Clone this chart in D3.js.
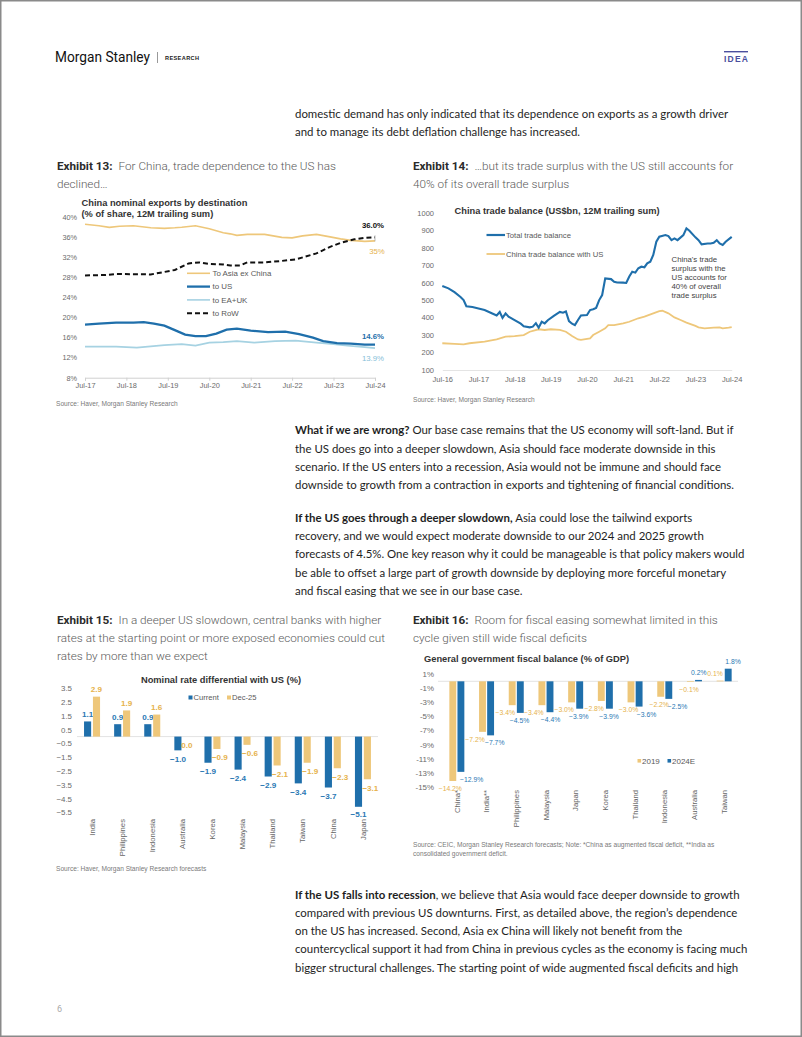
<!DOCTYPE html>
<html>
<head>
<meta charset="utf-8">
<script src="https://cdn.jsdelivr.net/npm/d3@7"></script>
<style>
  body { margin: 0; background: #fff; }
  svg { display: block; }
</style>
</head>
<body>
<svg id="page" width="802" height="1037"></svg>
<script>
// ---------- data read from the page ----------
// Exhibit 13: China nominal exports by destination (% share, 12M trailing sum)
const asiaExChina = [["2017-07",38.6],["2017-11",38.3],["2018-02",38.0],["2018-05",38.2],["2018-09",38.3],["2019-02",37.9],["2019-06",37.8],["2019-09",37.9],["2019-11",38.0],["2020-03",38.3],["2020-07",37.7],["2020-11",36.9],["2021-01",36.7],["2021-03",36.4],["2021-06",36.6],["2021-11",36.6],["2022-04",36.0],["2022-07",35.9],["2022-10",36.3],["2023-02",36.6],["2023-06",36.1],["2023-09",35.7],["2023-12",35.4],["2024-04",35.2],["2024-07",35.3]];
const toUS = [["2017-07",18.6],["2017-11",18.8],["2018-04",19.0],["2018-09",19.0],["2018-12",19.1],["2019-03",18.8],["2019-06",18.4],["2019-09",17.5],["2019-12",16.6],["2020-03",16.3],["2020-06",16.3],["2020-09",16.8],["2020-12",17.6],["2021-03",17.8],["2021-07",17.4],["2021-12",17.1],["2022-05",17.2],["2022-09",16.7],["2023-01",16.0],["2023-04",15.3],["2023-08",14.9],["2023-12",14.8],["2024-04",14.6],["2024-07",14.6]];
const toEAUK = [["2017-07",14.2],["2018-04",14.2],["2018-10",14.0],["2019-06",14.5],["2019-11",14.7],["2020-03",14.4],["2020-07",15.0],["2020-11",15.1],["2021-03",15.3],["2021-08",15.0],["2022-02",15.3],["2022-08",15.4],["2023-02",15.0],["2023-07",14.7],["2023-11",14.4],["2024-04",14.1],["2024-07",13.9]];
const toRoW = [["2017-07",28.4],["2018-01",28.5],["2018-04",28.7],["2019-02",28.6],["2019-06",29.1],["2019-09",29.5],["2020-01",30.8],["2020-04",31.0],["2020-07",30.7],["2020-11",30.6],["2021-01",30.4],["2021-04",30.4],["2021-06",31.0],["2021-11",31.0],["2022-04",31.3],["2022-08",31.6],["2023-02",32.8],["2023-06",34.1],["2023-09",34.9],["2024-01",35.6],["2024-04",35.9],["2024-07",36.0]];
const exportTicks = ["Jul-17","Jul-18","Jul-19","Jul-20","Jul-21","Jul-22","Jul-23","Jul-24"];
const exportYTicks = [8,12,16,20,24,28,32,36,40];

// Exhibit 14: China trade balance (US$bn, 12M trailing sum)
const totalBalance = [["2016-07",580],["2016-09",567],["2016-11",545],["2017-01",518],["2017-02",500],["2017-03",465],["2017-05",460],["2017-09",443],["2017-11",428],["2018-01",412],["2018-02",432],["2018-03",398],["2018-04",424],["2018-05",405],["2018-07",385],["2018-09",365],["2018-10",350],["2018-12",344],["2019-01",348],["2019-02",368],["2019-03",342],["2019-04",376],["2019-05",367],["2019-06",385],["2019-08",410],["2019-10",432],["2019-11",428],["2019-12",435],["2020-01",380],["2020-02",365],["2020-03",357],["2020-04",386],["2020-05",412],["2020-07",415],["2020-08",443],["2020-09",448],["2020-10",455],["2020-11",500],["2020-12",529],["2021-01",624],["2021-03",620],["2021-04",605],["2021-05",601],["2021-07",600],["2021-08",598],["2021-09",635],["2021-10",662],["2021-11",657],["2021-12",682],["2022-01",691],["2022-02",688],["2022-03",710],["2022-04",720],["2022-05",758],["2022-06",834],["2022-07",863],["2022-09",872],["2022-10",866],["2022-11",843],["2022-12",853],["2023-01",843],["2023-03",872],["2023-04",910],["2023-05",897],["2023-07",859],["2023-08",843],["2023-09",819],["2023-11",824],["2023-12",824],["2024-01",828],["2024-02",843],["2024-03",824],["2024-04",815],["2024-05",834],["2024-07",862]];
const usBalance = [["2016-07",253],["2016-11",249],["2017-02",247],["2017-04",253],["2017-09",262],["2018-01",275],["2018-04",291],["2018-07",294],["2018-10",300],["2018-12",319],["2019-03",333],["2019-05",329],["2019-07",333],["2019-10",329],["2019-12",319],["2020-02",294],["2020-04",275],["2020-05",272],["2020-08",281],["2020-09",300],["2020-11",319],["2021-01",338],["2021-02",357],["2021-04",357],["2021-07",367],["2021-09",376],["2021-12",396],["2022-02",405],["2022-05",424],["2022-07",437],["2022-08",439],["2022-10",424],["2022-12",401],["2023-02",386],["2023-04",371],["2023-07",352],["2023-08",344],["2023-10",338],["2024-01",342],["2024-03",344],["2024-04",338],["2024-06",342],["2024-07",346]];
const balanceTicks = ["Jul-16","Jul-17","Jul-18","Jul-19","Jul-20","Jul-21","Jul-22","Jul-23","Jul-24"];
const balanceYTicks = [100,200,300,400,500,600,700,800,900,1000];

// Exhibit 15: nominal rate differential with US (%)
const rateCountries = ["India","Philippines","Indonesia","Australia","Korea","Malaysia","Thailand","Taiwan","China","Japan"];
const rateCurrent = [1.1,0.9,0.9,-1.0,-1.9,-2.4,-2.9,-3.4,-3.7,-5.1];
const rateDec25 = [2.9,1.9,1.6,0.0,-0.9,-0.6,-2.1,-1.9,-2.3,-3.1];
const rateYTicks = [3.5,2.5,1.5,0.5,-0.5,-1.5,-2.5,-3.5,-4.5,-5.5];

// Exhibit 16: general government fiscal balance (% of GDP)
const fiscalCountries = ["China*","India**","Philippines","Malaysia","Japan","Korea","Thailand","Indonesia","Australia","Taiwan"];
const fiscal2019 = [-14.2,-7.2,-3.4,-3.4,-3.0,-2.8,-3.0,-2.2,-0.1,0.1];
const fiscal2024E = [-12.9,-7.7,-4.5,-4.4,-3.9,-3.9,-3.6,-2.5,0.2,1.8];
const fiscalYTicks = [1,-1,-3,-5,-7,-9,-11,-13,-15];

// ---------- setup ----------
const parse = d3.timeParse("%Y-%m");
const toPoints = arr => arr.map(([d, v]) => ({date: parse(d), value: v}));
const svg = d3.select("#page");
const CHART_FONT = "'Liberation Sans', Arial, sans-serif";
const BODY_FONT = "Lato, 'Noto Sans', sans-serif";
const TITLE_FONT = "Roboto, 'Noto Sans', sans-serif";
const BLUE = "#1f6fab", YELLOW = "#eec77a", LIGHTBLUE = "#a6d2e2";
const CHART_TITLE = 9.3;

// page frame
svg.append("rect").attr("x", 0.75).attr("y", 0.75).attr("width", 800.5).attr("height", 1035.5)
    .attr("fill", "none").attr("stroke", "#8a8a8a").attr("stroke-width", 1.5);

// header
svg.append("text").attr("x", 55).attr("y", 62).attr("font-family", TITLE_FONT).attr("font-size", 15)
    .attr("fill", "#111").attr("textLength", 95).attr("lengthAdjust", "spacingAndGlyphs").text("Morgan Stanley");
svg.append("line").attr("x1", 157.5).attr("x2", 157.5).attr("y1", 52).attr("y2", 63).attr("stroke", "#999");
svg.append("text").attr("x", 165).attr("y", 60).attr("font-family", CHART_FONT).attr("font-size", 5.6)
    .attr("font-weight", "bold").attr("fill", "#222").attr("textLength", 34).text("RESEARCH");
svg.append("rect").attr("x", 724).attr("y", 51).attr("width", 24).attr("height", 1.4).attr("fill", "#4b4f9e");
svg.append("text").attr("x", 724).attr("y", 61.5).attr("font-family", CHART_FONT).attr("font-size", 8.5)
    .attr("font-weight", "bold").attr("fill", "#4b4f9e").attr("textLength", 24).text("IDEA");
svg.append("text").attr("x", 57).attr("y", 1012).attr("font-family", TITLE_FONT).attr("font-size", 9)
    .attr("fill", "#aaa").text("6");

// ---------- body text ----------
function measure(family, weight, size, text) {
  const t = svg.append("text").attr("font-family", family).attr("font-weight", weight)
      .attr("font-size", size).text(text);
  const w = t.node().getComputedTextLength();
  t.remove();
  return w;
}
const bodySize = 12 * 450 / measure(BODY_FONT, "normal", 12,
    "forecasts of 4.5%. One key reason why it could be manageable is that policy makers would");

const paragraphs = [
  {y: 118, lines: [["", "domestic demand has only indicated that its dependence on exports as a growth driver"],
                   ["", "and to manage its debt deflation challenge has increased."]]},
  {y: 434.2, lines: [["What if we are wrong?", " Our base case remains that the US economy will soft-land. But if"],
                     ["", "the US does go into a deeper slowdown, Asia should face moderate downside in this"],
                     ["", "scenario. If the US enters into a recession, Asia would not be immune and should face"],
                     ["", "downside to growth from a contraction in exports and tightening of financial conditions."]]},
  {y: 521.8, lines: [["If the US goes through a deeper slowdown,", " Asia could lose the tailwind exports"],
                     ["", "recovery, and we would expect moderate downside to our 2024 and 2025 growth"],
                     ["", "forecasts of 4.5%. One key reason why it could be manageable is that policy makers would"],
                     ["", "be able to offset a large part of growth downside by deploying more forceful monetary"],
                     ["", "and fiscal easing that we see in our base case."]]},
  {y: 898.5, lines: [["If the US falls into recession", ", we believe that Asia would face deeper downside to growth"],
                     ["", "compared with previous US downturns. First, as detailed above, the region\u2019s dependence"],
                     ["", "on the US has increased. Second, Asia ex China will likely not benefit from the"],
                     ["", "countercyclical support it had from China in previous cycles as the economy is facing much"],
                     ["", "bigger structural challenges. The starting point of wide augmented fiscal deficits and high"]]}
];
paragraphs.forEach(p => {
  p.lines.forEach(([bold, rest], i) => {
    const t = svg.append("text").attr("x", 295).attr("y", p.y + i * 18.33)
        .attr("font-family", BODY_FONT).attr("font-size", bodySize).attr("fill", "#1e1e1e");
    if (bold) t.append("tspan").attr("font-weight", "bold").text(bold);
    t.append("tspan").text(rest);
  });
});

// ---------- exhibit titles ----------
const titleSize = 12 * 263 / measure(TITLE_FONT, 300, 12, "In a deeper US slowdown, central banks with higher");
const exhibitTitles = [
  {x: 57, y: 169.5, label: "Exhibit 13:", lines: ["For China, trade dependence to the US has", "declined\u2026"]},
  {x: 413, y: 169.5, label: "Exhibit 14:", lines: ["\u2026but its trade surplus with the US still accounts for", "40% of its overall trade surplus"]},
  {x: 57, y: 624, label: "Exhibit 15:", lines: ["In a deeper US slowdown, central banks with higher", "rates at the starting point or more exposed economies could cut", "rates by more than we expect"]},
  {x: 413, y: 624, label: "Exhibit 16:", lines: ["Room for fiscal easing somewhat limited in this", "cycle given still wide fiscal deficits"]}
];
exhibitTitles.forEach(e => {
  e.lines.forEach((line, i) => {
    const t = svg.append("text").attr("x", e.x).attr("y", e.y + i * 18)
        .attr("font-family", TITLE_FONT).attr("font-size", titleSize);
    if (i === 0) {
      t.append("tspan").attr("font-weight", "bold").attr("fill", "#2b2b2b").text(e.label);
      t.append("tspan").attr("dx", 6).attr("font-weight", 300).attr("fill", "#5a5a5a").text(line);
    } else {
      t.append("tspan").attr("font-weight", 300).attr("fill", "#5a5a5a").text(line);
    }
  });
});

function source(x, y, text) {
  svg.append("text").attr("x", x).attr("y", y).attr("font-family", CHART_FONT)
      .attr("font-size", 6.6).attr("fill", "#7a7a7a").text(text);
}
function chartText(x, y, size, text, opts = {}) {
  return svg.append("text").attr("x", x).attr("y", y).attr("font-family", CHART_FONT)
      .attr("font-size", size).attr("fill", opts.fill || "#555")
      .attr("font-weight", opts.weight || "normal")
      .attr("text-anchor", opts.anchor || "start").text(text);
}
function styleAxis(g, size) {
  g.selectAll("text").attr("font-family", CHART_FONT).attr("font-size", size).attr("fill", "#6b6b6b");
}

// ---------- Exhibit 13 ----------
{
  const x = d3.scaleTime().domain([parse("2017-07"), parse("2024-07")]).range([85, 375]);
  const y = d3.scaleLinear().domain([8, 40]).range([377.7, 217.3]);

  const yAxis = svg.append("g").attr("transform", "translate(79,0)")
      .call(d3.axisLeft(y).tickValues(exportYTicks).tickFormat(d => d + "%").tickSize(0).tickPadding(2));
  yAxis.select(".domain").remove();
  styleAxis(yAxis, 7.3);

  const tickDates = exportTicks.map((t, i) => d3.timeYear.offset(parse("2017-07"), i));
  const xAxis = svg.append("g").attr("transform", `translate(0,${y(8)})`)
      .call(d3.axisBottom(x).tickValues(tickDates).tickFormat((d, i) => exportTicks[i]).tickSize(3).tickPadding(2));
  xAxis.selectAll(".domain, line").attr("stroke", "#d0d0d0");
  styleAxis(xAxis, 7.4);

  const line = d3.line().x(d => x(d.date)).y(d => y(d.value));
  const series = [
    {data: toEAUK, color: LIGHTBLUE, width: 1.6},
    {data: asiaExChina, color: YELLOW, width: 1.6},
    {data: toUS, color: BLUE, width: 2.3},
    {data: toRoW, color: "#111", width: 2, dash: "5,3"}
  ];
  series.forEach(s => {
    svg.append("path").datum(toPoints(s.data)).attr("d", line).attr("fill", "none")
        .attr("stroke", s.color).attr("stroke-width", s.width)
        .attr("stroke-dasharray", s.dash || null);
  });

  chartText(81.5, 206, CHART_TITLE, "China nominal exports by destination", {weight: "bold", fill: "#333"});
  chartText(81.5, 217, CHART_TITLE, "(% of share, 12M trailing sum)", {weight: "bold", fill: "#333"});

  // legend
  const legend = [
    {label: "To Asia ex China", color: YELLOW, width: 1.6},
    {label: "to US", color: BLUE, width: 2.3},
    {label: "to EA+UK", color: LIGHTBLUE, width: 1.6},
    {label: "to RoW", color: "#111", width: 2, dash: "5,3"}
  ];
  legend.forEach((l, i) => {
    const ly = 273.3 + i * 13.3;
    svg.append("line").attr("x1", 187).attr("x2", 210).attr("y1", ly).attr("y2", ly)
        .attr("stroke", l.color).attr("stroke-width", l.width).attr("stroke-dasharray", l.dash || null);
    chartText(212.5, ly + 2.8, 7.9, l.label, {fill: "#595959"});
  });

  // end labels
  const end = parse("2024-07");
  svg.append("line").attr("x1", x(end)).attr("x2", x(end)).attr("y1", y(36.4)).attr("y2", y(35.2))
      .attr("stroke", "#aaa").attr("stroke-width", 0.8);
  chartText(x(end) - 2, y(36.0) - 9.5, 7.8, "36.0%", {weight: "bold", fill: "#111", anchor: "middle"});
  chartText(x(end) + 2, y(35.3) + 13, 7.8, "35%", {fill: "#e6b24c", anchor: "middle"});
  chartText(x(end) - 2, y(14.6) - 6, 7.8, "14.6%", {weight: "bold", fill: BLUE, anchor: "middle"});
  chartText(x(end) - 2, y(13.9) + 13, 7.8, "13.9%", {fill: "#86c0d8", anchor: "middle"});

  source(56, 406, "Source: Haver, Morgan Stanley Research");
}

// ---------- Exhibit 14 ----------
{
  const x = d3.scaleTime().domain([parse("2016-07"), parse("2024-07")]).range([442.3, 731.7]);
  const y = d3.scaleLinear().domain([100, 1000]).range([370, 212.7]);

  const yAxis = svg.append("g").attr("transform", "translate(436,0)")
      .call(d3.axisLeft(y).tickValues(balanceYTicks).tickFormat(d3.format("d")).tickSize(0).tickPadding(2));
  yAxis.select(".domain").remove();
  styleAxis(yAxis, 7.5);

  const tickDates = balanceTicks.map((t, i) => d3.timeYear.offset(parse("2016-07"), i));
  const xAxis = svg.append("g").attr("transform", `translate(0,${y(100)})`)
      .call(d3.axisBottom(x).tickValues(tickDates).tickFormat((d, i) => balanceTicks[i]).tickSize(0).tickPadding(7));
  xAxis.select(".domain").attr("stroke", "#e4e4e4");
  styleAxis(xAxis, 7.5);

  const line = d3.line().x(d => x(d.date)).y(d => y(d.value));
  svg.append("path").datum(toPoints(usBalance)).attr("d", line).attr("fill", "none")
      .attr("stroke", YELLOW).attr("stroke-width", 1.8);
  svg.append("path").datum(toPoints(totalBalance)).attr("d", line).attr("fill", "none")
      .attr("stroke", BLUE).attr("stroke-width", 2.1);

  chartText(454.5, 213.5, CHART_TITLE, "China trade balance (US$bn, 12M trailing sum)", {weight: "bold", fill: "#333"});

  const legend = [
    {label: "Total trade balance", color: BLUE, width: 2.2, y: 235},
    {label: "China trade balance with US", color: YELLOW, width: 1.8, y: 254}
  ];
  legend.forEach(l => {
    svg.append("line").attr("x1", 486.5).attr("x2", 505).attr("y1", l.y).attr("y2", l.y)
        .attr("stroke", l.color).attr("stroke-width", l.width);
    chartText(506, l.y + 2.7, 7.7, l.label, {fill: "#595959"});
  });

  ["China's trade", "surplus with the", "US accounts for", "40% of overall", "trade surplus"].forEach((t, i) => {
    chartText(671.5, 262 + i * 9, 7.8, t, {fill: "#444"});
  });

  source(413, 401.5, "Source: Haver, Morgan Stanley Research");
}

// ---------- Exhibit 15 ----------
{
  const x0 = d3.scaleBand().domain(rateCountries).range([77, 378]).paddingInner(0.468).paddingOuter(0.234);
  const x1 = d3.scaleBand().domain(["Current", "Dec-25"]).range([0, x0.bandwidth()]).paddingInner(0.2);
  const y = d3.scaleLinear().domain([-5.5, 3.5]).range([812.3, 688.4]);

  const yAxis = svg.append("g").attr("transform", "translate(74,0)")
      .call(d3.axisLeft(y).tickValues(rateYTicks).tickFormat(d3.format(".1f")).tickSize(0).tickPadding(2));
  yAxis.select(".domain").remove();
  styleAxis(yAxis, 7.9);

  svg.append("line").attr("x1", 77).attr("x2", 378).attr("y1", y(0)).attr("y2", y(0))
      .attr("stroke", "#dcdcdc").attr("stroke-width", 0.8);

  const rows = rateCountries.map((c, i) => ({country: c, Current: rateCurrent[i], "Dec-25": rateDec25[i]}));
  const seriesInfo = [
    {key: "Current", color: BLUE, labelColor: "#2a78b4", dx: 0},
    {key: "Dec-25", color: YELLOW, labelColor: "#e6b24c", dx: 3}
  ];
  seriesInfo.forEach(s => {
    const g = svg.append("g");
    g.selectAll("rect").data(rows).join("rect")
        .attr("x", d => x0(d.country) + x1(s.key))
        .attr("width", x1.bandwidth())
        .attr("y", d => y(Math.max(0, d[s.key])))
        .attr("height", d => Math.abs(y(d[s.key]) - y(0)))
        .attr("fill", s.color);
    g.selectAll("text").data(rows).join("text")
        .attr("x", d => x0(d.country) + x1(s.key) + x1.bandwidth() / 2 + (d[s.key] < 0 ? s.dx : 0))
        .attr("y", d => d[s.key] > 0 ? y(d[s.key]) - 4.3 : Math.min(y(d[s.key]) + 11.3, 816.5))
        .attr("text-anchor", "middle").attr("font-family", CHART_FONT).attr("font-size", 8.1)
        .attr("font-weight", "bold").attr("fill", s.labelColor)
        .text(d => d3.format(".1f")(d[s.key]));
  });

  svg.append("g").selectAll("text").data(rateCountries).join("text")
      .attr("transform", d => `translate(${x0(d) + x0.bandwidth() / 2},819) rotate(-90)`)
      .attr("dy", "0.35em").attr("text-anchor", "end")
      .attr("font-family", CHART_FONT).attr("font-size", 7.7).attr("fill", "#666").text(d => d);

  chartText(221, 682.5, CHART_TITLE, "Nominal rate differential with US (%)", {weight: "bold", fill: "#333", anchor: "middle"});

  svg.append("rect").attr("x", 188.5).attr("y", 695.5).attr("width", 4).attr("height", 4).attr("fill", BLUE);
  chartText(193.5, 700.2, 7.6, "Current", {fill: "#595959"});
  svg.append("rect").attr("x", 227).attr("y", 695.5).attr("width", 4).attr("height", 4).attr("fill", YELLOW);
  chartText(232, 700.2, 7.6, "Dec-25", {fill: "#595959"});

  source(56, 870.5, "Source: Haver, Morgan Stanley Research forecasts");
}

// ---------- Exhibit 16 ----------
{
  const x0 = d3.scaleBand().domain(fiscalCountries).range([442, 739]).paddingInner(0.495).paddingOuter(0.2475);
  const x1 = d3.scaleBand().domain(["2019", "2024E"]).range([0, x0.bandwidth()]).paddingInner(0.15);
  const y = d3.scaleLinear().domain([-15, 1]).range([786.6, 674.3]);

  const yAxis = svg.append("g").attr("transform", "translate(436,0)")
      .call(d3.axisLeft(y).tickValues(fiscalYTicks).tickFormat(d => d + "%").tickSize(0).tickPadding(2));
  yAxis.select(".domain").remove();
  styleAxis(yAxis, 7.9);

  svg.append("line").attr("x1", 438).attr("x2", 738).attr("y1", y(0)).attr("y2", y(0))
      .attr("stroke", "#dcdcdc").attr("stroke-width", 0.8);

  const rows = fiscalCountries.map((c, i) => ({country: c, "2019": fiscal2019[i], "2024E": fiscal2024E[i]}));
  // label nudges so crowded labels sit where the original put them
  const nudges = {
    "2019": [-2.5, -7.5, -6.9, -8.1, -7.4, -7.1, -2.5, -1.5, -1.4, -5.1],
    "2024E": [10.8, 4.1, -0.8, 0.5, -0.9, -0.4, 7.5, 8.7, 0.3, 4.8]
  };
  const seriesInfo = [
    {key: "2019", color: YELLOW, labelColor: "#e6b24c"},
    {key: "2024E", color: BLUE, labelColor: "#2a78b4"}
  ];
  seriesInfo.forEach(s => {
    const g = svg.append("g");
    g.selectAll("rect").data(rows).join("rect")
        .attr("x", d => x0(d.country) + x1(s.key))
        .attr("width", x1.bandwidth())
        .attr("y", d => y(Math.max(0, d[s.key])))
        .attr("height", d => Math.abs(y(d[s.key]) - y(0)))
        .attr("fill", s.color);
    g.selectAll("text").data(rows).join("text")
        .attr("x", (d, i) => x0(d.country) + x1(s.key) + x1.bandwidth() / 2 + nudges[s.key][i])
        .attr("y", d => d[s.key] > 0 ? y(d[s.key]) - 4.5 : y(d[s.key]) + 10)
        .attr("text-anchor", "middle").attr("font-family", CHART_FONT).attr("font-size", 6.8)
        .attr("fill", s.labelColor)
        .text(d => d3.format(".1f")(d[s.key]) + "%");
  });

  svg.append("g").selectAll("text").data(fiscalCountries).join("text")
      .attr("transform", d => `translate(${x0(d) + x0.bandwidth() / 2},790) rotate(-90)`)
      .attr("dy", "0.35em").attr("text-anchor", "end")
      .attr("font-family", CHART_FONT).attr("font-size", 7.7).attr("fill", "#666").text(d => d);

  chartText(424, 662, CHART_TITLE, "General government fiscal balance (% of GDP)", {weight: "bold", fill: "#333"});

  svg.append("rect").attr("x", 637.5).attr("y", 759).attr("width", 3.6).attr("height", 3.6).attr("fill", YELLOW);
  chartText(642, 764, 8, "2019", {fill: "#595959"});
  svg.append("rect").attr("x", 667.5).attr("y", 759).attr("width", 3.6).attr("height", 3.6).attr("fill", BLUE);
  chartText(672, 764, 8, "2024E", {fill: "#595959"});

  source(413, 846.5, "Source: CEIC, Morgan Stanley Research forecasts; Note: *China as augmented fiscal deficit, **India as");
  source(413, 855.5, "consolidated government deficit.");
}
</script>
</body>
</html>
